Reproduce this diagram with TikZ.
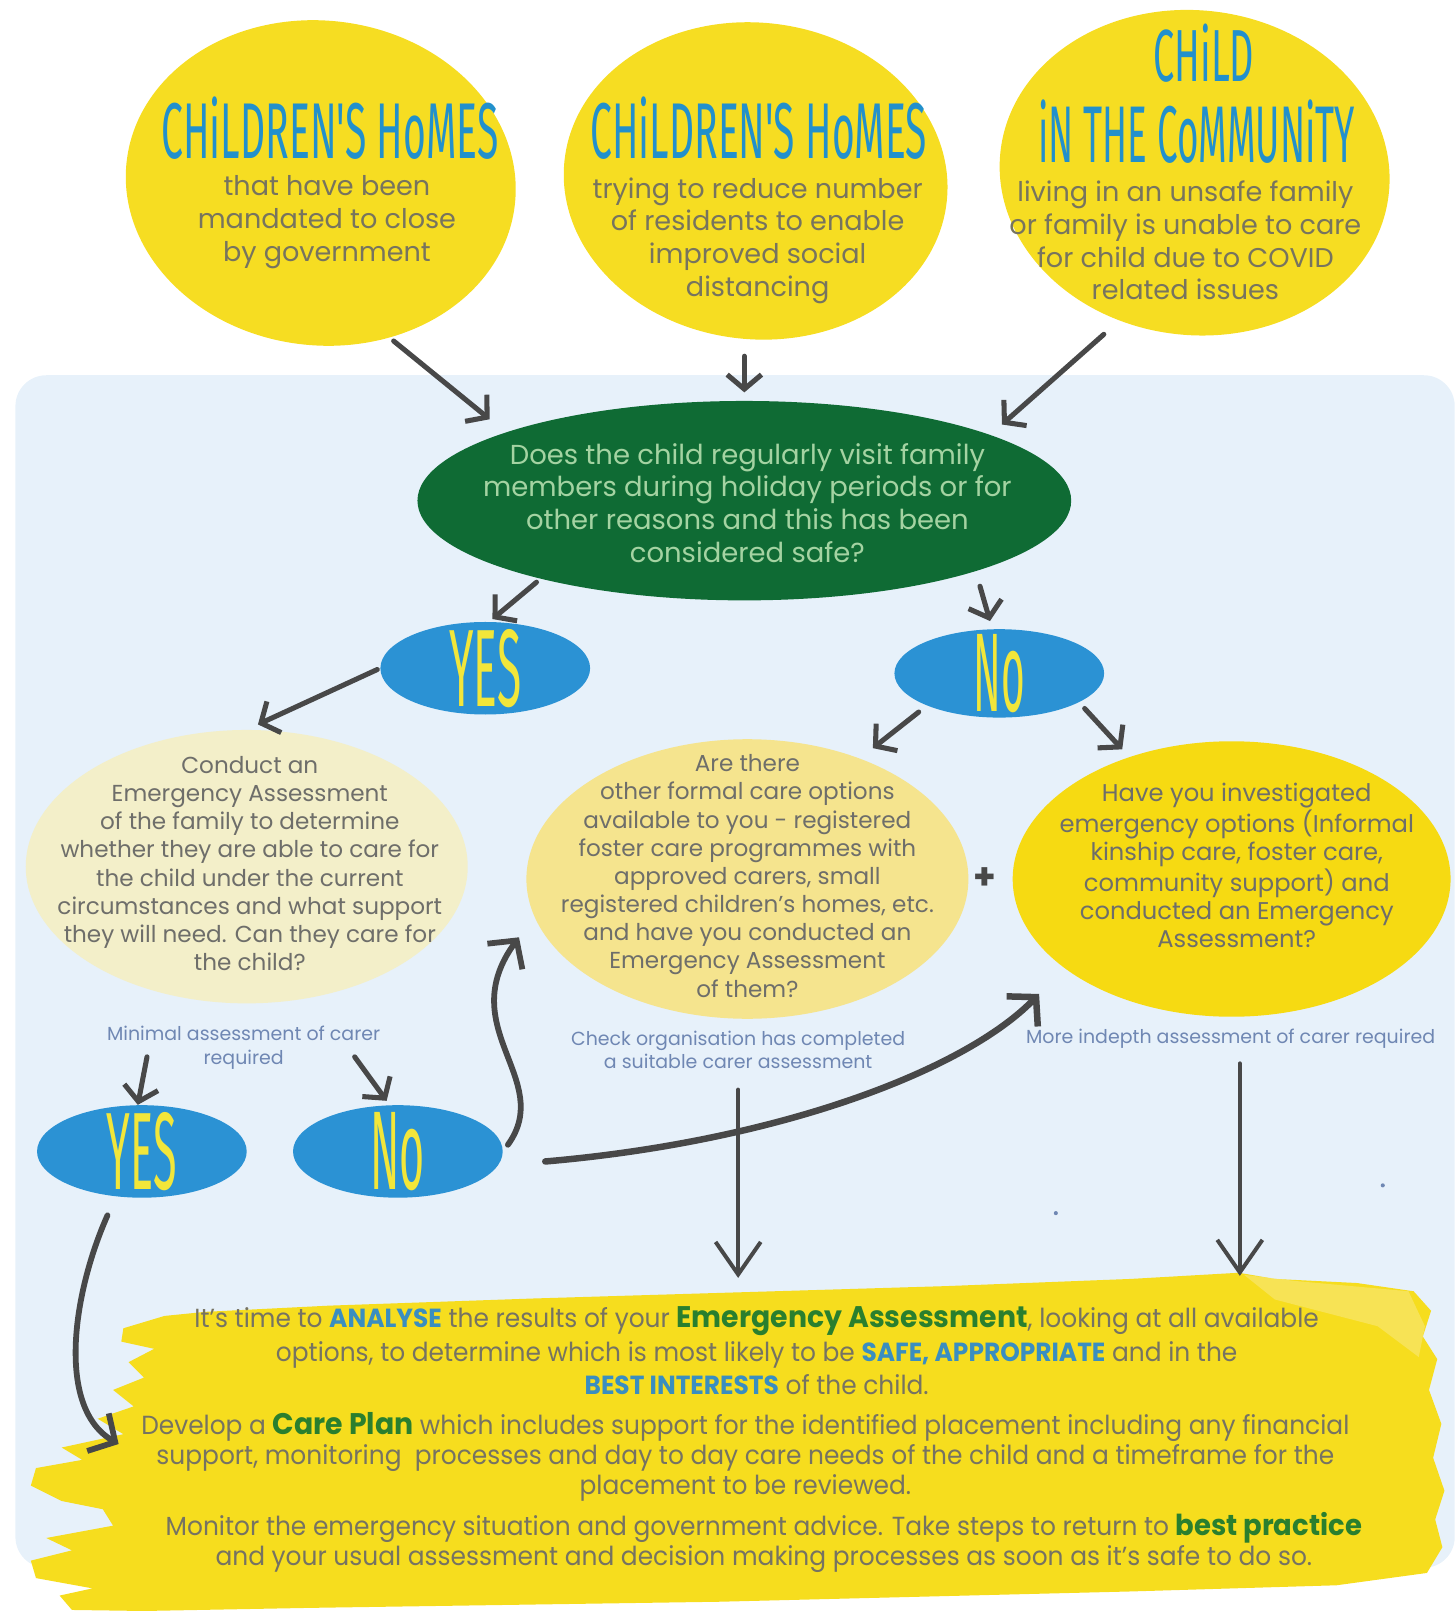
\documentclass[tikz,border=0pt]{standalone}
\usepackage{fontspec}
\usepackage{graphicx}
\setmainfont{Poppins}
\newfontfamily\titlefont{Fira Sans}
\newfontfamily\bandfont[FakeStretch=0.95]{Poppins}
\usetikzlibrary{shapes.geometric,arrows.meta}

\definecolor{panelblue}{HTML}{E7F1FA}
\definecolor{eggyellow}{HTML}{F6DD22}
\definecolor{titleblue}{HTML}{2290CC}
\definecolor{eggtext}{HTML}{77745E}
\definecolor{darkgreen}{HTML}{0F6B34}
\definecolor{greentext}{HTML}{A4D3A2}
\definecolor{ovalblue}{HTML}{2B92D4}
\definecolor{ovaltext}{HTML}{F2E63A}
\definecolor{paleyellow}{HTML}{F3EFC9}
\definecolor{midyellow}{HTML}{F5E48E}
\definecolor{brightyellow}{HTML}{F6DA12}
\definecolor{bodygray}{HTML}{6E6E6A}
\definecolor{labelblue}{HTML}{6F87B3}
\definecolor{arrowgray}{HTML}{484848}
\definecolor{bandyellow}{HTML}{F6DD1E}
\definecolor{bandlight}{HTML}{F8E77A}
\definecolor{bandtext}{HTML}{767362}
\definecolor{boldblue}{HTML}{3A8EC0}
\definecolor{boldgreen}{HTML}{2A7F2E}

\begin{document}
\begin{tikzpicture}[x=0.02cm, y=-0.02cm,
  egg/.style={ellipse, fill=eggyellow, inner sep=0pt},
  blob/.style={ellipse, inner sep=0pt},
  oval/.style={ellipse, fill=ovalblue, inner sep=0pt, minimum width=4.08cm, minimum height=1.8cm},
  txt/.style={align=center, inner sep=0pt},
  title/.style={inner sep=0pt, text=titleblue},
  ovaltxt/.style={inner sep=0pt, text=ovaltext},
  eggbody/.style={txt, text=eggtext, font=\fontsize{15}{18.1}\selectfont},
  blobtxt/.style={txt, text=bodygray, font=\fontsize{12.8}{15.6}\selectfont},
  note/.style={txt, text=labelblue, font=\fontsize{10.5}{13}\selectfont},
  bandtxt/.style={txt, text=bandtext, font=\bandfont\fontsize{14.5}{16.6}\selectfont},
  arr/.style={draw=arrowgray, line width=2.8pt, line cap=round, -{Straight Barb[length=8pt,width=19pt]}},
  bigarr/.style={draw=arrowgray, line width=2.2pt, line cap=round, -{Straight Barb[length=18pt,width=25pt]}},
  curvearr/.style={draw=arrowgray, line width=3.2pt, line cap=round, -{Straight Barb[length=11pt,width=24pt]}}
]
\useasboundingbox (0,0) rectangle (1415,1568);

% light blue panel behind the decision flow
\fill[panelblue, rounded corners=0.6cm] (15,365) rectangle (1415,1525);

% yellow brush band at the foot
\fill[bandyellow] (120,1292) -- (160,1280) -- (200,1276) -- (320,1270) -- (520,1263) -- (720,1257)
  -- (920,1251) -- (1100,1244) -- (1205,1238) -- (1240,1244) -- (1320,1248) -- (1375,1256)
  -- (1392,1275) -- (1384,1300) -- (1398,1322) -- (1390,1352) -- (1402,1385) -- (1394,1418)
  -- (1405,1450) -- (1396,1478) -- (1403,1505) -- (1388,1530) -- (1300,1542) -- (1100,1548)
  -- (900,1553) -- (700,1558) -- (500,1561) -- (300,1564) -- (140,1567) -- (70,1566)
  -- (58,1552) -- (90,1545) -- (35,1535) -- (30,1518) -- (70,1508) -- (45,1496) -- (110,1484)
  -- (100,1468) -- (60,1460) -- (30,1445) -- (35,1428) -- (80,1420) -- (60,1408) -- (120,1395)
  -- (95,1380) -- (130,1368) -- (110,1352) -- (140,1340) -- (125,1325) -- (150,1312)
  -- (118,1305) -- cycle;
\fill[bandlight, opacity=0.6] (1210,1240) -- (1260,1246) -- (1370,1256) -- (1386,1290)
  -- (1380,1320) -- (1340,1290) -- (1240,1264) -- cycle;

% stray specks on the panel
\fill[labelblue] (1027,1180) circle[radius=0.04cm];
\fill[labelblue] (1345,1153) circle[radius=0.04cm];

% the three starting situations
\node[egg, minimum width=7.6cm, minimum height=6.32cm, rotate=-6] (e1) at (312,178) {};
\node[egg, minimum width=7.48cm, minimum height=6.16cm, rotate=-6] (e2) at (735,176) {};
\node[egg, minimum width=7.6cm, minimum height=6.32cm, rotate=-6] (e3) at (1162,168) {};

\node[title] (t1) at (321,125) {\resizebox{6.56cm}{1.2cm}{\titlefont CHiLDREN'S HoMES}};
\node[title] (t2) at (738,125) {\resizebox{6.54cm}{1.2cm}{\titlefont CHiLDREN'S HoMES}};
\node[title] (t3a) at (1171,52) {\resizebox{1.96cm}{1.12cm}{\titlefont CHiLD}};
\node[title] (t3b) at (1164,128) {\resizebox{6.16cm}{1.22cm}{\titlefont iN THE CoMMUNiTY}};

\node[eggbody] (b1) at (318,216) {that have been\\mandated to close\\by government};
\node[eggbody] (b2) at (737,234) {trying to reduce number\\of residents to enable\\improved social\\distancing};
\node[eggbody] (b3) at (1153,234) {living in an unsafe family\\or family is unable to care\\for child due to COVID\\related issues};

% first question
\node[blob, fill=darkgreen, minimum width=12.72cm, minimum height=3.88cm] (q) at (724,487) {};
\node[txt, text=greentext, font=\fontsize{15.2}{18.1}\selectfont] (qt) at (727,489)
  {Does the child regularly visit family\\members during holiday periods or for\\other reasons and this has been\\considered safe?};

% answers to the first question
\node[oval] (yes1) at (472,650) {};
\node[ovaltxt] at (yes1) {\resizebox{1.4cm}{1.5cm}{\titlefont YES}};
\node[oval, minimum height=1.72cm] (no1) at (972,655) {};
\node[ovaltxt] at (no1) {\resizebox{1.0cm}{1.5cm}{\titlefont No}};

% follow-up questions
\node[blob, fill=paleyellow, minimum width=8.6cm, minimum height=5.32cm] (fam) at (240,843) {};
\node[blobtxt] (famt) at (243,840) {Conduct an\\Emergency Assessment\\of the family to determine\\whether they are able to care for\\the child under the current\\circumstances and what support\\they will need. Can they care for\\the child?};

\node[blob, fill=midyellow, minimum width=8.6cm, minimum height=5.44cm] (formal) at (727,855) {};
\node[blobtxt, font=\fontsize{12.8}{15.6}\selectfont] (formalt) at (727,852) {Are there\\other formal care options\\available to you - registered\\foster care programmes with\\approved carers, small\\registered children’s homes, etc.\\and have you conducted an\\Emergency Assessment\\of them?};

\node[blob, fill=brightyellow, minimum width=8.52cm, minimum height=5.36cm] (emerg) at (1198,855) {};
\node[blobtxt, font=\fontsize{13.4}{15.6}\selectfont] (emergt) at (1203,842) {Have you investigated\\emergency options (Informal\\kinship care, foster care,\\community support) and\\conducted an Emergency\\Assessment?};

\node[text=arrowgray, font=\bfseries\fontsize{20}{20}\selectfont, inner sep=0pt] (plus) at (958,855) {+};

% notes on the level of carer assessment
\node[note] (lab1) at (237,1019) {Minimal assessment of carer\\required};
\node[note] (lab2) at (718,1021) {Check organisation has completed\\a suitable carer assessment};
\node[note] (lab3) at (1197,1010) {More indepth assessment of carer required};

% answers to the family question
\node[oval] (yes2) at (138,1120) {};
\node[ovaltxt] at (yes2) {\resizebox{1.36cm}{1.5cm}{\titlefont YES}};
\node[oval] (no2) at (387,1120) {};
\node[ovaltxt] at (no2) {\resizebox{1.06cm}{1.5cm}{\titlefont No}};

% closing guidance
\node[bandtxt, font=\bandfont\fontsize{14.5}{18.4}\selectfont] (p1) at (736,1314)
  {It’s time to {\bfseries\color{boldblue}ANALYSE} the results of your {\fontsize{16.5}{18.4}\selectfont\bfseries\color{boldgreen}Emergency Assessment}, looking at all available\\
   options, to determine which is most likely to be {\bfseries\color{boldblue}SAFE, APPROPRIATE} and in the\\
   {\bfseries\color{boldblue}BEST INTERESTS} of the child.};
\node[bandtxt] (p2) at (725,1417)
  {Develop a {\fontsize{16.5}{16.6}\selectfont\bfseries\color{boldgreen}Care Plan} which includes support for the identified placement including any financial\\
   support, monitoring\ \ processes and day to day care needs of the child and a timeframe for the\\
   placement to be reviewed.};
\node[bandtxt] (p3) at (743,1500)
  {Monitor the emergency situation and government advice. Take steps to return to {\fontsize{16}{16.6}\selectfont\bfseries\color{boldgreen}best practice}\\
   and your usual assessment and decision making processes as soon as it’s safe to do so.};

% connectors
\coordinate (famL) at (143,1028);
\coordinate (famR) at (345,1028);

\draw[arr, shorten <=0.1cm, shorten >=0.4cm] (e1.-60) -- (q.164);
\draw[arr, shorten <=0.34cm, shorten >=0.16cm] (q.north |- e2.south) -- (q.north);
\draw[arr, shorten <=0.4cm, shorten >=0.3cm] (e3.249) -- (q.15);

\draw[arr, shorten <=0.1cm, shorten >=0.08cm] (q.201) -- (yes1.85);
\draw[arr, shorten <=0.3cm, shorten >=0.16cm] (q.-17.6) -- (no1.99);
\draw[arr, shorten <=0.06cm, shorten >=0.24cm] (yes1.west) -- (fam.north);
\draw[arr, shorten <=0.2cm, shorten >=0.32cm] (no1.204) -- (formal.47);
\draw[arr, shorten <=0.16cm, shorten >=0.2cm] (no1.-20) -- (emerg.130);

\draw[arr] (famL) -- (yes2.95);
\draw[arr, shorten >=0.1cm] (famR) -- (no2.100);

\draw[bigarr, shorten <=0.4cm, shorten >=0.56cm] (lab2.south) -- (lab2.south |- p1.north);
\draw[bigarr, shorten <=0.9cm, shorten >=0.6cm] ([xshift=0.16cm]emerg.south) -- ([xshift=0.16cm]emerg.south |- p1.north);

\draw[curvearr, shorten <=0.4cm, shorten >=0.5cm] (yes2.240) .. controls (70,1260) and (55,1370) .. (p2.west);
\draw[curvearr, shorten <=0.16cm, shorten >=0.5cm] (no2.east) .. controls (540,1050) and (440,1000) .. (formal.190);
\draw[curvearr, line width=3.6pt, shorten <=0.92cm, shorten >=0.7cm] (no2.-8) .. controls (760,1110) and (940,1040) .. (emerg.208);

\end{tikzpicture}
\end{document}
